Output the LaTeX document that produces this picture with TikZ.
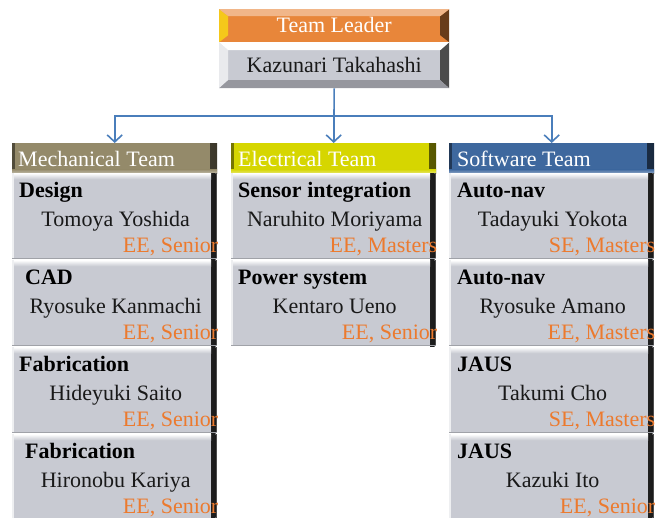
\documentclass[tikz,border=0pt]{standalone}
\usepackage{fontspec}
\setmainfont{Liberation Serif}
\usetikzlibrary{arrows.meta}
\definecolor{cardgray}{RGB}{200,202,210}
\definecolor{mechc}{RGB}{148,138,106}
\definecolor{elecc}{RGB}{214,214,0}
\definecolor{softc}{RGB}{62,104,158}
\definecolor{leadc}{RGB}{232,134,58}
\definecolor{linkc}{RGB}{74,126,187}
\definecolor{degc}{RGB}{236,122,46}
\definecolor{txtc}{RGB}{25,25,25}
\newcommand\pbb{path picture bounding box}
\tikzset{
  every node/.style={font=\fontsize{22}{24}\selectfont},
  card/.style={fill=cardgray, minimum width=205pt, minimum height=86pt, inner sep=0pt,
    path picture={
      \shade[left color=cardgray, right color=black!90] ([xshift=-6pt]\pbb.north east) rectangle ([xshift=-1.5pt]\pbb.south east);
      \fill[black!70] ([xshift=-1.5pt]\pbb.north east) rectangle (\pbb.south east);
      \shade[top color=white, bottom color=cardgray] (\pbb.north west) rectangle ([xshift=-6pt,yshift=-6pt]\pbb.north east);
      \fill[white!70!cardgray] (\pbb.north west) rectangle ([xshift=2pt]\pbb.south west);
      \fill[cardgray!80!black] (\pbb.south west) rectangle ([yshift=1.5pt]\pbb.south east);
    }},
  hdr/.style={fill=#1, minimum width=205pt, minimum height=30pt, inner sep=0pt,
    path picture={
      \shade[left color=#1, right color=#1!40!black] ([xshift=-7pt]\pbb.north east) rectangle (\pbb.south east);
      \fill[#1!55!black] (\pbb.north west) rectangle ([xshift=3pt]\pbb.south west);
      \shade[top color=#1, bottom color=#1!60!white] ([yshift=4pt]\pbb.south west) rectangle (\pbb.south east);
    }},
  leadbox/.style={fill=leadc, minimum width=230pt, minimum height=33pt, inner sep=0pt,
    path picture={
      \fill[leadc!45!yellow] (\pbb.north west) -- ([xshift=9pt,yshift=-7pt]\pbb.north west) -- ([xshift=9pt,yshift=7pt]\pbb.south west) -- (\pbb.south west) -- cycle;
      \fill[leadc!45!black] (\pbb.north east) -- ([xshift=-9pt,yshift=-7pt]\pbb.north east) -- ([xshift=-9pt,yshift=7pt]\pbb.south east) -- (\pbb.south east) -- cycle;
      \fill[leadc!60!white] (\pbb.north west) -- ([xshift=9pt,yshift=-7pt]\pbb.north west) -- ([xshift=-9pt,yshift=-7pt]\pbb.north east) -- (\pbb.north east) -- cycle;
    }},
  namebox/.style={fill=cardgray, minimum width=230pt, minimum height=46pt, inner sep=0pt,
    path picture={
      \fill[white!60!cardgray] (\pbb.north west) -- ([xshift=9pt,yshift=-8pt]\pbb.north west) -- ([xshift=9pt,yshift=8pt]\pbb.south west) -- (\pbb.south west) -- cycle;
      \fill[black!70] (\pbb.north east) -- ([xshift=-9pt,yshift=-8pt]\pbb.north east) -- ([xshift=-9pt,yshift=8pt]\pbb.south east) -- (\pbb.south east) -- cycle;
      \fill[white] (\pbb.north west) -- ([xshift=9pt,yshift=-8pt]\pbb.north west) -- ([xshift=-9pt,yshift=-8pt]\pbb.north east) -- (\pbb.north east) -- cycle;
      \fill[cardgray!75!black] (\pbb.south west) -- ([xshift=9pt,yshift=8pt]\pbb.south west) -- ([xshift=-9pt,yshift=8pt]\pbb.south east) -- (\pbb.south east) -- cycle;
    }},
  hdrtext/.style={text=white, inner sep=0pt, anchor=base west},
  lbl/.style={text=black, font=\fontsize{22}{24}\selectfont\bfseries, inner sep=0pt, anchor=base west},
  pers/.style={text=txtc, inner sep=0pt, anchor=base},
  deg/.style={text=degc, inner sep=0pt, anchor=base east},
  link/.style={draw=linkc, line width=1.6pt},
  tip/.style={-{Straight Barb[length=7pt,width=15pt,line width=1.6pt]}}
}
\newcommand\mycard[7]{%
  \node[card, anchor=north west] (#1) at (#2,#3) {};
  \node[lbl] (#1-l) at ([xshift=#4pt,yshift=-25pt]#1.north west) {#5};
  \node[pers] (#1-p) at ([xshift=1pt,yshift=-54pt]#1.north) {#6};
  \node[deg] (#1-d) at ([xshift=1pt,yshift=-80pt]#1.north east) {#7};
}
\begin{document}
\begin{tikzpicture}[x=1pt,y=-1pt]
\useasboundingbox (0,0) rectangle (662,518);
% leader
\node[leadbox, anchor=north west] (lead) at (219,9) {};
\node[text=white, inner sep=0pt, anchor=base] (lead-t) at ([yshift=-24pt]lead.north) {Team Leader};
\node[namebox, anchor=north west] (lname) at (219,42) {};
\node[text=txtc, inner sep=0pt, anchor=base] (lname-t) at ([yshift=-31pt]lname.north) {Kazunari Takahashi};
% headers
\node[hdr=mechc, anchor=north west] (mech) at (12,143) {};
\node[hdrtext] (mech-t) at ([xshift=6pt,yshift=-24pt]mech.north west) {Mechanical Team};
\node[hdr=elecc, anchor=north west] (elec) at (231,143) {};
\node[hdrtext] (elec-t) at ([xshift=7pt,yshift=-24pt]elec.north west) {Electrical Team};
\node[hdr=softc, anchor=north west] (soft) at (449,143) {};
\node[hdrtext] (soft-t) at ([xshift=8pt,yshift=-24pt]soft.north west) {Software Team};
% connectors
\coordinate (bus) at (334,116);
\draw[link] (lname.south) -- (bus);
\draw[link,tip] (bus) -| (mech.north);
\draw[link,tip] (bus) -| (elec.north);
\draw[link,tip] (bus) -| (soft.north);
% mechanical
\mycard{m1}{12}{173}{7}{Design}{Tomoya Yoshida}{EE, Senior}
\mycard{m2}{12}{260}{13}{CAD}{Ryosuke Kanmachi}{EE, Senior}
\mycard{m3}{12}{347}{7}{Fabrication}{Hideyuki Saito}{EE, Senior}
\mycard{m4}{12}{434}{13}{Fabrication}{Hironobu Kariya}{EE, Senior}
% electrical
\mycard{e1}{231}{173}{7}{Sensor integration}{Naruhito Moriyama}{EE, Masters}
\mycard{e2}{231}{260}{7}{Power system}{Kentaro Ueno}{EE, Senior}
% software
\mycard{s1}{449}{173}{8}{Auto-nav}{Tadayuki Yokota}{SE, Masters}
\mycard{s2}{449}{260}{8}{Auto-nav}{Ryosuke Amano}{EE, Masters}
\mycard{s3}{449}{347}{8}{JAUS}{Takumi Cho}{SE, Masters}
\mycard{s4}{449}{434}{8}{JAUS}{Kazuki Ito}{EE, Senior}
\end{tikzpicture}
\end{document}
